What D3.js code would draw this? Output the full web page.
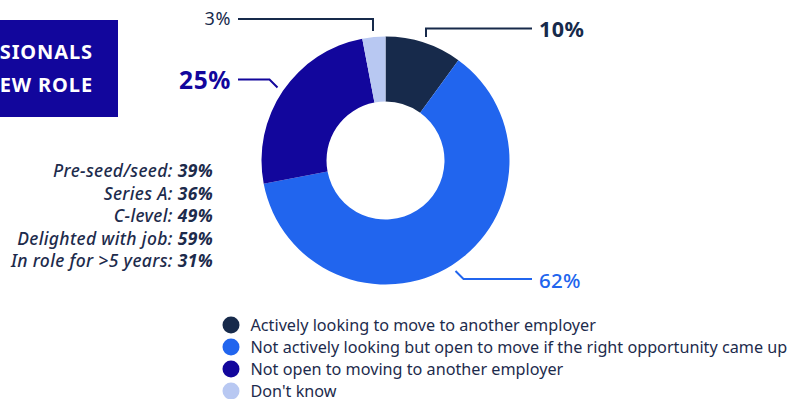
<!DOCTYPE html>
<html>
<head>
<meta charset="utf-8">
<script src="https://cdn.jsdelivr.net/npm/d3@7"></script>
<style>
  html, body { margin: 0; padding: 0; background: #ffffff; }
  svg { display: block; font-family: "Noto Sans", "Open Sans", sans-serif; }
</style>
</head>
<body>
<svg id="chart" width="797" height="399"></svg>
<script>
// Survey response shares (percent), clockwise from 12 o'clock
const categories = [
  "Actively looking to move to another employer",
  "Not actively looking but open to move if the right opportunity came up",
  "Not open to moving to another employer",
  "Don't know"
];
const shares = [10, 62, 25, 3];
const colors = ["#172a4b", "#2165ee", "#12069c", "#b8c8f2"];

// Side notes: share by segment
const noteLabels = ["Pre-seed/seed", "Series A", "C-level", "Delighted with job", "In role for >5 years"];
const noteValues = [39, 36, 49, 59, 31];

const titleLines = ["SIONALS", "EW ROLE"];

const svg = d3.select("#chart");
const cx = 385.5, cy = 160.5, outerR = 124, innerR = 59;
const ink = "#1d2b4c";

// Title panel (clipped at the left edge)
svg.append("rect").attr("x", -2).attr("y", 20).attr("width", 120).attr("height", 97).attr("fill", "#12069c");
svg.selectAll("text.title").data(titleLines).join("text")
  .attr("class", "title")
  .attr("x", 93).attr("y", (d, i) => 59 + i * 33)
  .attr("text-anchor", "end")
  .attr("fill", "#ffffff")
  .attr("font-size", 20).attr("font-weight", 700)
  .attr("letter-spacing", 0.9)
  .text(d => d);

// Donut
const pie = d3.pie().sort(null).value(d => d);
const arcs = pie(shares);
const arc = d3.arc().innerRadius(innerR).outerRadius(outerR);
const g = svg.append("g").attr("transform", `translate(${cx},${cy})`);
g.selectAll("path").data(arcs).join("path")
  .attr("d", arc)
  .attr("fill", (d, i) => colors[i]);

// Callout labels with leader lines
const callouts = [
  { i: 0, pts: [[426, 37], [426, 28.5], [532, 28.5]], tx: 539, ty: 37, anchor: "start", size: 21.5, weight: 700, color: colors[0], ls: 0.4 },
  { i: 1, pts: [[455.5, 271], [463.5, 279], [532, 279]], tx: 539, ty: 288, anchor: "start", size: 20.5, weight: 500, color: colors[1], ls: 0.3 },
  { i: 2, pts: [[277.5, 87.5], [269.5, 79.5], [238, 79.5]], tx: 231, ty: 88.5, anchor: "end", size: 24.5, weight: 700, color: colors[2], ls: 0.6 },
  { i: 3, pts: [[373, 31], [373, 19], [238, 19]], tx: 231, ty: 25, anchor: "end", size: 18, weight: 400, color: colors[0], ls: 0.6 }
];
const line = d3.line();
svg.selectAll("path.leader").data(callouts).join("path")
  .attr("class", "leader")
  .attr("d", d => line(d.pts))
  .attr("fill", "none")
  .attr("stroke", d => d.color)
  .attr("stroke-width", 2);
svg.selectAll("text.callout").data(callouts).join("text")
  .attr("class", "callout")
  .attr("x", d => d.tx).attr("y", d => d.ty)
  .attr("text-anchor", d => d.anchor)
  .attr("font-size", d => d.size)
  .attr("font-weight", d => d.weight)
  .attr("letter-spacing", d => d.ls)
  .attr("fill", d => d.color)
  .text(d => shares[d.i] + "%");

// Side notes, right-aligned italic
const notes = svg.selectAll("text.note").data(noteLabels).join("text")
  .attr("class", "note")
  .attr("x", 213).attr("y", (d, i) => 177 + i * 22.5)
  .attr("text-anchor", "end")
  .attr("font-size", 17.5).attr("font-style", "italic").attr("font-weight", 500)
  .attr("letter-spacing", 0.35)
  .attr("fill", ink);
notes.append("tspan").text(d => d + ": ");
notes.append("tspan").attr("font-weight", 700).text((d, i) => noteValues[i] + "%");

// Legend
const legend = svg.selectAll("g.legend").data(categories).join("g")
  .attr("class", "legend")
  .attr("transform", (d, i) => `translate(231,${325 + i * 22})`);
legend.append("circle").attr("r", 8.5).attr("fill", (d, i) => colors[i]);
legend.append("text")
  .attr("x", 19.5).attr("y", 5.5)
  .attr("font-size", 16.2)
  .attr("fill", ink)
  .text(d => d);
</script>
</body>
</html>
